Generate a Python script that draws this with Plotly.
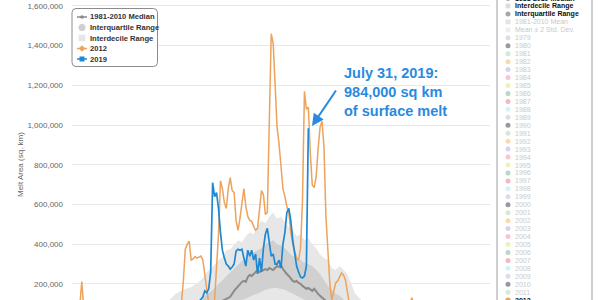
import plotly.graph_objects as go

# ---------------- data (day of year, melt area in sq km) ----------------
doy_2012 = [91, 93, 95, 96, 97, 100, 110, 120, 130, 140, 146, 147, 148, 149, 150, 151, 152, 153, 154, 155,
            156, 157, 158, 159, 160, 161, 162, 163, 164, 165, 166, 167, 168, 169, 170, 171, 172, 173, 174, 175,
            176, 177, 178, 179, 180, 181, 182, 183, 184, 185, 186, 187, 188, 189, 190, 191, 192, 193, 194, 195,
            196, 197, 198, 199, 200, 201, 202, 203, 204, 205, 206, 207, 208, 209, 210, 211, 212, 213, 214, 215,
            216, 217, 218, 219, 220, 221, 222, 223, 224, 225, 226, 227, 228, 229, 230, 231, 232, 233, 236, 240,
            245, 250, 256, 263, 265, 267, 270, 280, 290, 304]
melt_2012 = [10000, 60000, 90000, 212000, 80000, 20000, 30000, 15000, 40000, 30000, 60000, 100000, 215000, 375000, 400000, 415000, 320000, 326000, 338000, 330000,
             335000, 340000, 320000, 245000, 150000, 100000, 90000, 100000, 120000, 270000, 450000, 720000, 680000, 610000, 580000, 680000, 735000, 670000, 660000, 520000,
             470000, 530000, 620000, 680000, 590000, 540000, 520000, 515000, 490000, 470000, 480000, 580000, 670000, 650000, 550000, 560000, 1000000, 1460000, 1410000, 1200000,
             990000, 905000, 770000, 680000, 640000, 590000, 560000, 460000, 400000, 365000, 330000, 320000, 380000, 620000, 1170000, 1080000, 1090000, 860000, 700000, 685000,
             740000, 880000, 990000, 1020000, 890000, 540000, 360000, 200000, 120000, 170000, 205000, 215000, 240000, 255000, 245000, 220000, 160000, 100000, 50000, 80000,
             30000, 60000, 90000, 70000, 130000, 60000, 20000, 10000, 5000, 0]

doy_2019 = [91, 110, 130, 140, 150, 154, 156, 157, 158, 159, 160, 161, 162, 163, 164, 165, 166, 167, 168, 169,
            170, 171, 172, 173, 174, 175, 176, 177, 178, 179, 180, 181, 182, 183, 184, 185, 186, 187, 188, 189,
            190, 191, 192, 193, 194, 195, 196, 197, 198, 199, 200, 201, 202, 203, 204, 205, 206, 207, 208, 209,
            210, 211, 212]
melt_2019 = [5000, 20000, 30000, 40000, 60000, 90000, 110000, 125000, 135000, 165000, 155000, 175000, 260000, 710000, 640000, 660000, 580000, 460000, 370000, 330000,
             300000, 290000, 275000, 285000, 300000, 365000, 375000, 370000, 375000, 330000, 290000, 370000, 340000, 370000, 320000, 350000, 250000, 330000, 260000, 380000,
             450000, 480000, 420000, 340000, 350000, 300000, 300000, 320000, 280000, 400000, 460000, 560000, 580000, 520000, 420000, 360000, 290000, 260000, 235000, 230000,
             240000, 290000, 984000]

median_doy = [91, 120, 140, 150, 155, 160, 165, 168, 170, 172, 174, 176, 178, 179, 180, 181, 182, 183, 184, 185,
              186, 187, 188, 189, 190, 191, 192, 193, 194, 195, 196, 197, 198, 199, 200, 201, 202, 203, 204, 205,
              206, 207, 208, 209, 210, 211, 212, 213, 214, 215, 216, 217, 218, 219, 220, 222, 225, 230, 240, 250,
              260, 270, 280, 305]
median_val = [0, 10000, 30000, 50000, 70000, 95000, 110000, 115000, 125000, 135000, 165000, 190000, 210000, 215000, 210000, 235000, 245000, 240000, 250000, 260000,
              270000, 260000, 265000, 270000, 275000, 270000, 280000, 275000, 270000, 280000, 290000, 285000, 295000, 275000, 260000, 250000, 240000, 225000, 215000, 210000,
              215000, 205000, 200000, 190000, 180000, 175000, 180000, 170000, 165000, 175000, 160000, 150000, 140000, 130000, 120000, 105000, 90000, 70000, 40000, 25000,
              15000, 5000, 2000, 0]

band_doy = [91, 110, 130, 140, 144, 148, 152, 156,
            158, 160, 162, 164, 166, 168, 170, 172, 174, 176, 178, 180, 182, 184, 186, 188, 190, 192, 194, 196, 198,
            200, 202, 204, 206, 208, 210, 212, 214, 216, 218, 220, 222, 224, 226, 228, 230, 232, 234, 236, 238, 240,
            245, 250, 260, 270, 285, 305]
p90 = [0, 20000, 50000, 110000, 150000, 170000, 185000, 210000,
       230000, 260000, 275000, 300000, 320000, 335000, 370000, 375000, 400000, 420000, 410000, 440000, 460000, 450000, 490000, 520000, 505000, 540000, 560000, 530000, 540000,
       510000, 485000, 470000, 440000, 450000, 420000, 430000, 400000, 380000, 350000, 330000, 320000, 280000, 270000, 290000, 270000, 250000, 200000, 150000, 130000, 110000,
       80000, 60000, 35000, 20000, 8000, 0]
p75 = [0, 5000, 20000, 40000, 55000, 75000, 95000, 115000,
       130000, 150000, 160000, 180000, 200000, 220000, 240000, 260000, 280000, 300000, 315000, 330000, 345000, 360000, 370000, 380000, 400000, 410000, 420000, 400000, 395000,
       380000, 360000, 340000, 330000, 320000, 305000, 300000, 290000, 270000, 250000, 220000, 190000, 170000, 150000, 140000, 120000, 105000, 95000, 85000, 80000, 70000,
       45000, 30000, 15000, 8000, 3000, 0]
p25 = [0, 0, 2000, 5000, 8000, 12000, 18000, 25000,
       30000, 35000, 40000, 50000, 60000, 70000, 80000, 90000, 100000, 110000, 120000, 125000, 135000, 145000, 150000, 160000, 170000, 175000, 180000, 180000, 175000,
       170000, 160000, 150000, 140000, 130000, 120000, 115000, 105000, 95000, 85000, 75000, 65000, 55000, 48000, 42000, 36000, 30000, 25000, 20000, 17000, 15000,
       10000, 6000, 3000, 1000, 0, 0]
p10 = [0, 0, 0, 1000, 2000, 3000, 5000, 8000,
       10000, 12000, 15000, 18000, 22000, 26000, 30000, 35000, 40000, 45000, 50000, 55000, 60000, 65000, 70000, 75000, 80000, 85000, 85000, 85000, 80000,
       75000, 70000, 65000, 60000, 55000, 50000, 45000, 40000, 36000, 32000, 28000, 24000, 20000, 17000, 14000, 12000, 10000, 8000, 7000, 6000, 5000,
       3000, 2000, 1000, 0, 0, 0]

y_ticks = [200000, 400000, 600000, 800000, 1000000, 1200000, 1400000, 1600000]
y_label = "Melt Area (sq. km)"
callout = "July 31, 2019:<br>984,000 sq km<br>of surface melt"

left_legend = ["1981-2010 Median", "Interquartile Range", "Interdecile Range", "2012", "2019"]
right_legend_top = ["1981-2010 Median", "Interdecile Range", "Interquartile Range", "1981-2010 Mean", "Mean ± 2 Std. Dev."]
legend_years = [str(y) for y in range(1979, 2013)]

# ---------------- styles ----------------
ORANGE = "#eda35c"
BLUE = "#1f88d2"
MEDIAN = "#8a8a8a"
IQR_FILL = "#d0d0d0"
IDR_FILL = "#e7e7e7"
TEXT_BLUE = "#2a8ae0"
FONT = "Liberation Sans, Arial, sans-serif"
year_cols = ["#9a9a9a", "#d3ead3", "#f6dbb0", "#d8d2f2", "#f4c7d6",
             "#eef1bb", "#bcd6cb", "#f2b9c1", "#d6f2f1", "#d8dfea"]

W, H = 600, 300
L, R, T, B = 72, 110, 0, 0
PW = W - L - R


def X(px):
    return (px - L) / PW


def Y(py):
    return (H - py) / H


fig = go.Figure()

# interdecile band
fig.add_trace(go.Scatter(x=band_doy + band_doy[::-1], y=p90 + p10[::-1], fill="toself",
                         fillcolor=IDR_FILL, line=dict(width=0), mode="lines",
                         hoverinfo="skip", showlegend=False))
# interquartile band
fig.add_trace(go.Scatter(x=band_doy + band_doy[::-1], y=p75 + p25[::-1], fill="toself",
                         fillcolor=IQR_FILL, line=dict(width=0), mode="lines",
                         hoverinfo="skip", showlegend=False))
fig.add_trace(go.Scatter(x=median_doy, y=median_val, mode="lines",
                         line=dict(color=MEDIAN, width=2), showlegend=False))
fig.add_trace(go.Scatter(x=doy_2012, y=melt_2012, mode="lines",
                         line=dict(color=ORANGE, width=1.5), showlegend=False))
fig.add_trace(go.Scatter(x=doy_2019, y=melt_2019, mode="lines",
                         line=dict(color=BLUE, width=1.7), showlegend=False))

shapes = []
annotations = []


def rrect(x0, y0, x1, y1, r):
    return (f"M {X(x0 + r)},{Y(y0)} L {X(x1 - r)},{Y(y0)} Q {X(x1)},{Y(y0)} {X(x1)},{Y(y0 + r)} "
            f"L {X(x1)},{Y(y1 - r)} Q {X(x1)},{Y(y1)} {X(x1 - r)},{Y(y1)} "
            f"L {X(x0 + r)},{Y(y1)} Q {X(x0)},{Y(y1)} {X(x0)},{Y(y1 - r)} "
            f"L {X(x0)},{Y(y0 + r)} Q {X(x0)},{Y(y0)} {X(x0 + r)},{Y(y0)} Z")


def circ(cx, cy, r, color, line=None):
    shapes.append(dict(type="circle", xref="paper", yref="paper", layer="above",
                       x0=X(cx - r), x1=X(cx + r), y0=Y(cy + r), y1=Y(cy - r),
                       fillcolor=color, line=dict(width=0 if line is None else 1, color=line or color)))


def sq(cx, cy, r, color):
    shapes.append(dict(type="rect", xref="paper", yref="paper", layer="above",
                       x0=X(cx - r), x1=X(cx + r), y0=Y(cy + r), y1=Y(cy - r),
                       fillcolor=color, line=dict(width=0)))


def diamond(cx, cy, r, color):
    shapes.append(dict(type="path", xref="paper", yref="paper", layer="above",
                       path=f"M {X(cx)},{Y(cy - r)} L {X(cx + r)},{Y(cy)} L {X(cx)},{Y(cy + r)} L {X(cx - r)},{Y(cy)} Z",
                       fillcolor=color, line=dict(width=0)))


def hline(x0, x1, yy, color, w):
    shapes.append(dict(type="line", xref="paper", yref="paper", layer="above",
                       x0=X(x0), x1=X(x1), y0=Y(yy), y1=Y(yy), line=dict(color=color, width=w)))


def text(px, py, s, size, color, bold=False, anchor="left"):
    annotations.append(dict(x=X(px), y=Y(py), xref="paper", yref="paper", text=s, showarrow=False,
                            xanchor=anchor, yanchor="middle", borderpad=0,
                            font=dict(family=FONT, size=size, color=color,
                                      weight="bold" if bold else "normal")))


# ---- left legend ----
shapes.append(dict(type="path", xref="paper", yref="paper", layer="above", path=rrect(72, 8.5, 157.5, 66.5, 4),
                   fillcolor="white", line=dict(color="#8c8c8c", width=1)))
rows = [17, 27.5, 38, 48.5, 59]
hline(77, 87, rows[0], MEDIAN, 1.5)
circ(82, rows[0], 1.8, MEDIAN)
circ(82, rows[1], 3.5, "#cfcfcf")
sq(82, rows[2], 3.3, "#e6e6e6")
hline(77, 87, rows[3], ORANGE, 1.5)
diamond(82, rows[3], 3.2, ORANGE)
hline(77, 87, rows[4], BLUE, 1.5)
sq(82, rows[4], 2.5, BLUE)
for lab, yy in zip(left_legend, rows):
    text(89, yy, lab, 7.6, "#333333", bold=True)

# ---- right legend ----
shapes.append(dict(type="path", xref="paper", yref="paper", layer="above", path=rrect(497, -4, 592, 304, 3),
                   fillcolor="white", line=dict(color="#9c9c9c", width=1)))
step = 7.95
ytop = 6 - step
top_cols = ["#555555", "#dcdcdc", "#a8a8a8", "#e4e4e4", "#eeeeee"]
top_bold = [True, True, True, False, False]
for i, lab in enumerate(right_legend_top):
    yy = ytop + i * step
    if i in (1, 3, 4):
        sq(508, yy, 2.4, top_cols[i])
    else:
        circ(508, yy, 2.5, top_cols[i])
    text(513.5, yy, lab, 7, "#111111" if top_bold[i] else "#c9c9c9", bold=top_bold[i])
for j, yr in enumerate(legend_years):
    yy = ytop + (5 + j) * step
    if yr == "2012":
        circ(508, yy, 2.7, ORANGE)
        text(513.5, yy, yr, 7, "#111111", bold=True)
    else:
        c = year_cols[(int(yr) - 1980) % 10]
        circ(508, yy, 2.5, c)
        text(513.5, yy, yr, 7, "#c9c9c9")

# ---- axis title ----
annotations.append(dict(x=X(20), y=Y(165), xref="paper", yref="paper", text=y_label, showarrow=False,
                        textangle=-90, xanchor="center", yanchor="middle",
                        font=dict(family=FONT, size=8, color="#666666")))

# ---- callout ----
annotations.append(dict(x=X(342), y=Y(91.5), xref="paper", yref="paper", text=callout, showarrow=False,
                        xanchor="left", yanchor="middle", align="left",
                        font=dict(family=FONT, size=14.5, color=TEXT_BLUE, weight="bold")))
annotations.append(dict(x=X(312), y=Y(126), xref="paper", yref="paper", text="", showarrow=True,
                        ax=25, ay=-37, axref="pixel", ayref="pixel", arrowhead=2, arrowsize=1.2,
                        arrowwidth=2, arrowcolor=TEXT_BLUE, standoff=0))

fig.update_layout(
    width=W, height=H,
    margin=dict(l=L, r=R, t=T, b=B, pad=0),
    paper_bgcolor="white", plot_bgcolor="white",
    showlegend=False,
    xaxis=dict(range=[91, 305], showgrid=False, showticklabels=False, zeroline=False,
               showline=False, ticks=""),
    yaxis=dict(range=[119000, 1630000], tickvals=y_ticks, tickformat=",d",
               showgrid=True, gridcolor="#e8e8e8", gridwidth=1, zeroline=False,
               showline=False, ticks="", ticklabelstandoff=8,
               tickfont=dict(family=FONT, size=8, color="#666666")),
    shapes=shapes,
    annotations=annotations,
)

fig.write_html("out.html")
